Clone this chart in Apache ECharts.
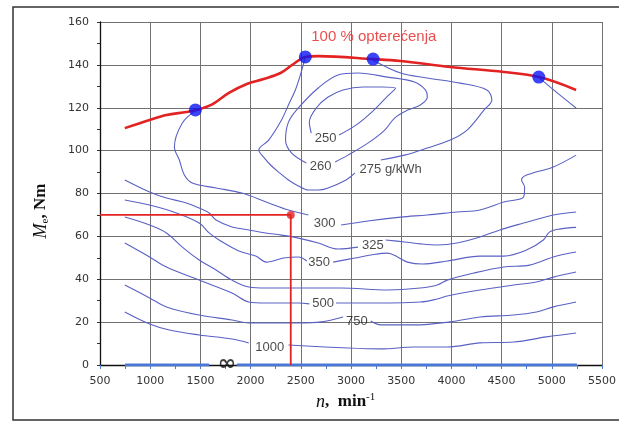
<!DOCTYPE html>
<html>
<head>
<meta charset="utf-8">
<script src="https://cdn.jsdelivr.net/npm/echarts@6/dist/echarts.min.js"></script>
<style>
  html, body { margin: 0; padding: 0; background: #fff; }
  #chart { width: 619px; height: 422px; }
</style>
</head>
<body>
<div id="chart"></div>
<script>
// full load torque curve (n [min-1], Me [Nm])
const fullLoad = [
  [747, 110.5], [994, 114.3], [1162, 116.6], [1360, 118.0], [1458, 118.9],
  [1607, 121.3], [1784, 126.9], [1962, 131.1], [2130, 133.4], [2298, 136.2],
  [2427, 140.4], [2545, 143.7], [2674, 144.1], [3227, 142.7], [3494, 141.8],
  [3988, 139.0], [4521, 136.7], [4876, 134.3], [5242, 128.3]
];
const touchPoints = [[1450, 119], [2545, 143.7], [3220, 142.7], [4870, 134.3]];

// specific consumption isolines, each split into segments where a label sits
const c250 = [[
  [2881, 107.3], [3049, 111.9], [3207, 118.0], [3345, 124.5], [3444, 129.2],
  [3316, 129.7], [3118, 129.7], [2921, 128.3], [2772, 125.0], [2654, 119.9],
  [2585, 113.3], [2604, 108.2]
]];
const c260 = [[
  [2842, 94.7], [2970, 97.9], [3168, 103.5], [3336, 109.6], [3434, 115.2],
  [3563, 118.9], [3691, 121.3], [3760, 125.0], [3741, 128.3], [3632, 132.0],
  [3365, 134.3], [3069, 136.2], [2871, 135.3], [2674, 129.2], [2476, 119.9],
  [2377, 113.3], [2348, 104.9], [2407, 98.9], [2555, 94.2]
]];
const c275 = [
  [[2545, 143.7], [2496, 135.3], [2446, 128.3], [2377, 121.3], [2308, 114.3],
   [2180, 104.9], [2081, 100.3], [2130, 97.0], [2199, 93.3], [2278, 90.0],
   [2377, 86.3], [2476, 83.5], [2575, 81.6], [2674, 81.6], [2772, 82.6],
   [2950, 86.3], [3040, 89.6]],
  [[3296, 95.6], [3533, 97.9], [3760, 101.2], [3988, 104.9], [4156, 109.6],
   [4324, 118.9], [4403, 123.6], [4353, 128.3], [4086, 131.5], [3760, 133.9],
   [3494, 136.2], [3217, 142.3]]
];
const c300 = [
  [[1458, 118.9], [1320, 112.9], [1241, 101.7], [1290, 95.6], [1340, 88.6],
   [1419, 84.9], [1656, 82.6], [1913, 80.2], [2180, 75.6], [2377, 72.3], [2575, 70.0]],
  [[2901, 65.3], [3168, 67.2], [3494, 69.0], [3760, 70.0], [4057, 71.4],
   [4284, 72.3], [4521, 76.0], [4719, 78.4], [4729, 83.0], [4699, 86.3],
   [4748, 88.6], [5015, 92.4], [5242, 97.9]],
  [[4867, 134.3], [5045, 127.3], [5242, 119.9]]
];
const c325 = [
  [[747, 86.3], [994, 80.7], [1162, 77.9], [1360, 75.6], [1488, 73.2],
   [1587, 70.9], [1656, 67.6], [1814, 64.4], [1982, 63.0], [2150, 61.6],
   [2308, 60.6], [2476, 59.2], [2674, 56.9], [2871, 54.1], [3069, 55.0]],
  [[3345, 58.3], [3533, 57.4], [3691, 56.5], [3859, 56.0], [4057, 56.9],
   [4284, 59.7], [4482, 63.0], [4719, 66.2], [5015, 70.0], [5242, 71.4]]
];
const c350 = [
  [[747, 77.0], [994, 74.6], [1261, 70.9], [1488, 66.2], [1587, 61.6],
   [1686, 58.3], [1883, 53.2], [2051, 50.8], [2160, 48.0], [2328, 49.9],
   [2476, 50.4], [2560, 48.5]],
  [[2822, 48.0], [3039, 49.9], [3197, 51.3], [3365, 52.2], [3464, 50.4],
   [3563, 48.0], [3711, 47.1], [3958, 48.5], [4284, 50.8], [4521, 50.8],
   [4748, 53.6], [4916, 58.3], [4976, 62.0], [5075, 63.4], [5242, 64.2]]
];
const c400 = [[
  [747, 69.0], [994, 65.3], [1162, 61.6], [1320, 55.0], [1488, 49.0],
  [1656, 44.3], [1814, 39.6], [1982, 36.4], [2150, 35.9], [2476, 35.9],
  [2901, 35.9], [3365, 35.0], [3691, 35.9], [3859, 37.3], [3958, 39.6],
  [4225, 42.9], [4521, 45.7], [4778, 46.6], [5015, 50.4], [5242, 52.7]
]];
const c500 = [
  [[747, 56.9], [994, 50.4], [1162, 45.7], [1488, 39.6], [1814, 33.6],
   [1982, 29.4], [2150, 28.9], [2476, 28.9], [2585, 28.5]],
  [[2851, 28.9], [3138, 28.9], [3691, 29.4], [3859, 30.8], [3958, 32.2],
   [4284, 35.0], [4620, 37.3], [4847, 38.7], [5015, 41.0], [5242, 43.4]]
];
const c750 = [
  [[747, 37.3], [994, 31.3], [1162, 27.1], [1488, 23.3], [1814, 21.0],
   [1982, 19.6], [2476, 19.6], [2703, 20.1], [2921, 22.4]],
  [[3197, 20.5], [3296, 18.7], [3632, 18.7], [3988, 20.1], [4284, 22.4],
   [4620, 23.3], [4847, 24.7], [5015, 27.1], [5242, 29.4]]
];
const c1000 = [
  [[747, 24.7], [994, 19.1], [1191, 16.3], [1488, 14.0], [1814, 12.1], [1982, 10.3]],
  [[2377, 9.3], [2970, 7.9], [3296, 7.5], [3632, 8.4], [3958, 8.4],
   [4284, 10.3], [4620, 10.7], [4946, 13.1], [5242, 14.9]]
];
const cInf = [[[750, 0], [1587, 0]], [[1863, 0], [5250, 0]]];

// isoline labels: [n, Me, text]
const isoLabels = [
  [2748, 105.9, '250'], [2698, 92.8, '260'], [3395, 91.0, '275 g/kWh'],
  [2738, 66.2, '300'], [3217, 56.0, '325'], [2683, 48.0, '350'],
  [2723, 28.5, '500'], [3059, 20.5, '750'], [2190, 8.4, '1000']
];
const infLabel = [[1765, 0.2, '∞']];
const loadLabel = [[2604, 153, '100 % opterećenja']];

// operating point example
const opLine = [[500, 70], [2400, 70], [2400, 0]];
const opPoint = [[2400, 70]];

const chart = echarts.init(document.getElementById('chart'));

const isoColor = '#5a60c4';
const contourSeries = [];
[c250, c260, c275, c300, c325, c350, c400, c500, c750, c1000].forEach((segs) => {
  segs.forEach((seg) => {
    contourSeries.push({
      type: 'line',
      data: seg,
      smooth: 0.35,
      showSymbol: false,
      silent: true,
      lineStyle: { color: isoColor, width: 1.1 },
      z: 3,
    });
  });
});
cInf.forEach((seg) => {
  contourSeries.push({
    type: 'line',
    data: seg,
    showSymbol: false,
    silent: true,
    lineStyle: { color: '#4a78d8', width: 3 },
    z: 3,
  });
});

const grayLine = { color: '#727272', width: 1 };

chart.setOption({
  animation: false,
  grid: { left: 100, right: 13, top: 22, bottom: 57 },
  xAxis: {
    type: 'value',
    min: 500,
    max: 5500,
    interval: 500,
    axisLine: { lineStyle: { color: '#111', width: 1.3 } },
    axisTick: { show: true, length: 4, lineStyle: { color: '#4a78d8' } },
    minorTick: { show: true, splitNumber: 2, length: 4, lineStyle: { color: '#4a78d8' } },
    splitLine: { show: true, lineStyle: grayLine },
    axisLabel: {
      color: '#333', fontFamily: 'DejaVu Sans', fontSize: 11, margin: 11,
      formatter: (v) => String(v),
    },
  },
  yAxis: {
    type: 'value',
    min: 0,
    max: 160,
    interval: 20,
    axisLine: { show: true, lineStyle: { color: '#111', width: 1.3 } },
    axisTick: { show: true, length: 3, lineStyle: { color: '#333' } },
    minorTick: { show: true, splitNumber: 2, length: 3, lineStyle: { color: '#333' } },
    splitLine: { show: true, lineStyle: grayLine },
    axisLabel: {
      color: '#333', fontFamily: 'DejaVu Sans', fontSize: 11, margin: 11,
      formatter: (v) => String(v),
    },
  },
  graphic: [
    {
      type: 'rect',
      shape: { x: 13, y: 7, width: 620, height: 413 },
      style: { fill: 'none', stroke: '#333', lineWidth: 1.5 },
      silent: true,
    },
    {
      type: 'text',
      x: 41,
      y: 211,
      rotation: Math.PI / 2,
      style: {
        text: '{i|M}{s|e}{b|, Nm}',
        textAlign: 'center',
        textVerticalAlign: 'middle',
        rich: {
          i: { fontFamily: 'Liberation Serif', fontStyle: 'italic', fontSize: 18, fill: '#111', lineHeight: 20 },
          s: { fontFamily: 'Liberation Serif', fontSize: 11, fill: '#111', verticalAlign: 'bottom', lineHeight: 20 },
          b: { fontFamily: 'Liberation Serif', fontWeight: 'bold', fontSize: 17, fill: '#111', lineHeight: 20 },
        },
      },
    },
    {
      type: 'text',
      x: 316,
      y: 402,
      style: {
        text: '{i|n}{b|,  min}{p|-1}',
        textAlign: 'left',
        textVerticalAlign: 'middle',
        rich: {
          i: { fontFamily: 'Liberation Serif', fontStyle: 'italic', fontSize: 18, fill: '#111', lineHeight: 20 },
          b: { fontFamily: 'Liberation Serif', fontWeight: 'bold', fontSize: 17, fill: '#111', lineHeight: 20 },
          p: { fontFamily: 'Liberation Serif', fontSize: 11, fill: '#111', verticalAlign: 'top', lineHeight: 20 },
        },
      },
    },
  ],
  series: [
    ...contourSeries,
    {
      type: 'line',
      data: opLine,
      showSymbol: false,
      silent: true,
      lineStyle: { color: '#e32222', width: 1.8 },
      z: 4,
    },
    {
      type: 'scatter',
      data: opPoint,
      symbolSize: 8,
      itemStyle: { color: '#e32222' },
      z: 5,
    },
    {
      type: 'line',
      data: fullLoad,
      smooth: 0.35,
      showSymbol: false,
      silent: true,
      lineStyle: { color: '#e32222', width: 2.6 },
      z: 5,
    },
    {
      type: 'scatter',
      data: touchPoints,
      symbolSize: 13,
      itemStyle: { color: '#0a16f5' },
      z: 6,
    },
    {
      type: 'scatter',
      data: isoLabels,
      symbolSize: 0,
      silent: true,
      z: 7,
      label: {
        show: true,
        position: 'inside',
        formatter: (p) => p.data[2],
        color: '#1a1a1a',
        fontFamily: 'Liberation Sans',
        fontSize: 13,
      },
    },
    {
      type: 'scatter',
      data: infLabel,
      symbolSize: 0,
      silent: true,
      z: 7,
      label: {
        show: true,
        position: 'inside',
        formatter: (p) => p.data[2],
        color: '#111',
        fontFamily: 'DejaVu Sans',
        fontWeight: 'bold',
        fontSize: 22,
      },
    },
    {
      type: 'scatter',
      data: loadLabel,
      symbolSize: 0,
      silent: true,
      z: 7,
      label: {
        show: true,
        position: 'right',
        distance: 0,
        formatter: (p) => p.data[2],
        color: '#e32222',
        fontFamily: 'Liberation Sans',
        fontSize: 15,
      },
    },
  ],
});
</script>
</body>
</html>
